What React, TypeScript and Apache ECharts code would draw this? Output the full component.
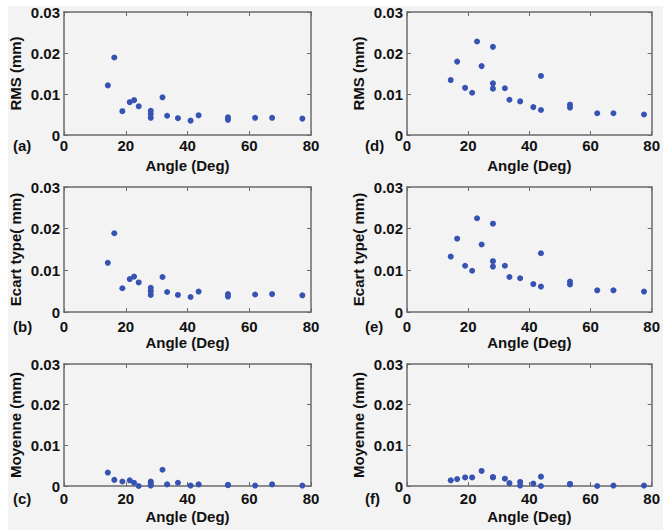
import React, { useEffect, useRef } from "react";
import * as echarts from "echarts";

// ---- data ----
const anglesLeft = [14.2, 16.3, 18.9, 21.3, 22.7, 24.2, 28.1, 28.1, 28.1, 31.9, 33.4, 36.9, 41.0, 43.6, 53.1, 53.1, 61.9, 67.4, 77.2];
const rmsA = [0.0121, 0.0189, 0.0058, 0.008, 0.0085, 0.007, 0.0059, 0.0051, 0.0042, 0.0092, 0.0047, 0.0041, 0.0035, 0.0048, 0.0043, 0.0037, 0.0042, 0.0042, 0.004];
const stdB = [0.0118, 0.0189, 0.0057, 0.0079, 0.0085, 0.0071, 0.0058, 0.005, 0.0041, 0.0084, 0.0048, 0.0041, 0.0036, 0.0049, 0.0043, 0.0037, 0.0042, 0.0043, 0.004];
const meanC = [0.0033, 0.0015, 0.0011, 0.0014, 0.0008, 0.0, 0.0011, 0.0005, 0.0001, 0.004, 0.0004, 0.0008, 0.0001, 0.0004, 0.0003, 0.0002, 0.0001, 0.0004, 0.0001];

const anglesRight = [14.3, 16.4, 19.0, 21.3, 22.9, 24.4, 28.1, 28.1, 28.1, 32.0, 33.5, 37.0, 41.3, 43.8, 43.8, 53.3, 53.3, 62.2, 67.5, 77.5];
const rmsD = [0.0134, 0.0179, 0.0115, 0.0103, 0.0228, 0.0168, 0.0215, 0.0126, 0.0113, 0.0114, 0.0086, 0.0082, 0.0068, 0.0144, 0.0061, 0.0074, 0.0067, 0.0053, 0.0053, 0.005];
const stdE = [0.0133, 0.0176, 0.0111, 0.0099, 0.0225, 0.0162, 0.0212, 0.0122, 0.0109, 0.0111, 0.0084, 0.0081, 0.0067, 0.0141, 0.0061, 0.0073, 0.0066, 0.0052, 0.0052, 0.0049];

const anglesF = [14.3, 16.4, 19.0, 21.3, 24.4, 28.1, 28.1, 32.0, 33.5, 37.0, 37.0, 41.3, 43.8, 43.8, 53.3, 53.3, 62.2, 67.5, 77.5];
const meanF = [0.0014, 0.0017, 0.0021, 0.0021, 0.0037, 0.0022, 0.0021, 0.0018, 0.0007, 0.001, 0.0001, 0.0006, 0.0023, 0.0, 0.0005, 0.0004, 0.0, 0.0001, 0.0001];

const xTicks = { min: 0, max: 80, interval: 20 };
const yTicks = { min: 0, max: 0.03, interval: 0.01 };
const xName = "Angle (Deg)";
const panelLetters = ["(a)", "(b)", "(c)", "(d)", "(e)", "(f)"];
const yNames = ["RMS (mm)", "Ecart type( mm)", "Moyenne (mm)", "RMS (mm)", "Ecart type( mm)", "Moyenne (mm)"];

const panels = [
  { x: anglesLeft, y: rmsA },
  { x: anglesLeft, y: stdB },
  { x: anglesLeft, y: meanC },
  { x: anglesRight, y: rmsD },
  { x: anglesRight, y: stdE },
  { x: anglesF, y: meanF },
];

// layout
const rowTops = [12, 187, 364];
const rowHeights = [123, 125, 122];
const colLefts = [64, 407];
const colWidths = [247, 248];
const rowLabelMargin = [3, 7, 5];
const rowNameGap = [23, 22, 23];
const rowLetterTop = [138, 319, 491];
const colLetterLeft = [13, 365];

const FONT = "'Liberation Sans', Arial, Helvetica, sans-serif";
const FRAME = "#6b6b6b";
const DOT = "#3652b2";

export default function App() {
  const ref = useRef<HTMLDivElement>(null);
  useEffect(() => {
    if (!ref.current) return;
    const chart = echarts.init(ref.current, undefined, { renderer: "svg" });
    const grid: any[] = [];
    const xAxis: any[] = [];
    const yAxis: any[] = [];
    const series: any[] = [];
    const graphic: any[] = [
      { type: "rect", shape: { x: 8, y: 6, width: 663, height: 530 }, style: { fill: "#f3f3f3" }, z: -10 },
    ];
    panels.forEach((p, i) => {
      const col = i < 3 ? 0 : 1;
      const row = i % 3;
      grid.push({ left: colLefts[col], top: rowTops[row], width: colWidths[col], height: rowHeights[row], containLabel: false });
      const axLine = { show: true, onZero: false, lineStyle: { color: FRAME, width: 1.5 } };
      const tick = { show: true, inside: true, length: 4, lineStyle: { color: FRAME, width: 1 } };
      xAxis.push({
        type: "value", gridIndex: i, position: "bottom", ...xTicks,
        axisLine: axLine, axisTick: tick, splitLine: { show: false },
        axisLabel: { color: "#111", fontFamily: FONT, fontWeight: "bold", fontSize: 15, margin: rowLabelMargin[row] },
        name: xName, nameLocation: "middle", nameGap: rowNameGap[row],
        nameTextStyle: { color: "#111", fontFamily: FONT, fontWeight: "bold", fontSize: 15 },
      });
      xAxis.push({
        type: "value", gridIndex: i, position: "top", ...xTicks,
        axisLine: axLine, axisTick: tick, splitLine: { show: false }, axisLabel: { show: false },
      });
      yAxis.push({
        type: "value", gridIndex: i, position: "left", ...yTicks,
        axisLine: axLine, axisTick: tick, splitLine: { show: false },
        axisLabel: {
          color: "#111", fontFamily: FONT, fontWeight: "bold", fontSize: 15, margin: 4,
          formatter: (v: number) => (Math.abs(v) < 1e-9 ? "0" : v.toFixed(2)),
        },
        name: yNames[i], nameLocation: "middle", nameGap: 41, nameRotate: 90,
        nameTextStyle: { color: "#111", fontFamily: FONT, fontWeight: "bold", fontSize: 15 },
      });
      yAxis.push({
        type: "value", gridIndex: i, position: "right", ...yTicks,
        axisLine: axLine, axisTick: tick, splitLine: { show: false }, axisLabel: { show: false },
      });
      series.push({
        type: "scatter", xAxisIndex: 2 * i, yAxisIndex: 2 * i,
        symbol: "circle", symbolSize: 6,
        itemStyle: { color: DOT, opacity: 1 },
        data: p.x.map((a, k) => [a, p.y[k]]),
        clip: false,
      });
      graphic.push({
        type: "text", left: colLetterLeft[col], top: rowLetterTop[row],
        style: { text: panelLetters[i], fill: "#111", font: `bold 15px ${FONT}` },
      });
    });
    chart.setOption({
      animation: false,
      backgroundColor: "#ffffff",
      textStyle: { fontFamily: FONT },
      grid, xAxis, yAxis, series, graphic,
    });
    return () => chart.dispose();
  }, []);
  return (
    <div
      ref={ref}
      style={{ position: "fixed", left: 0, top: 0, width: 663, height: 530 }}
    />
  );
}
